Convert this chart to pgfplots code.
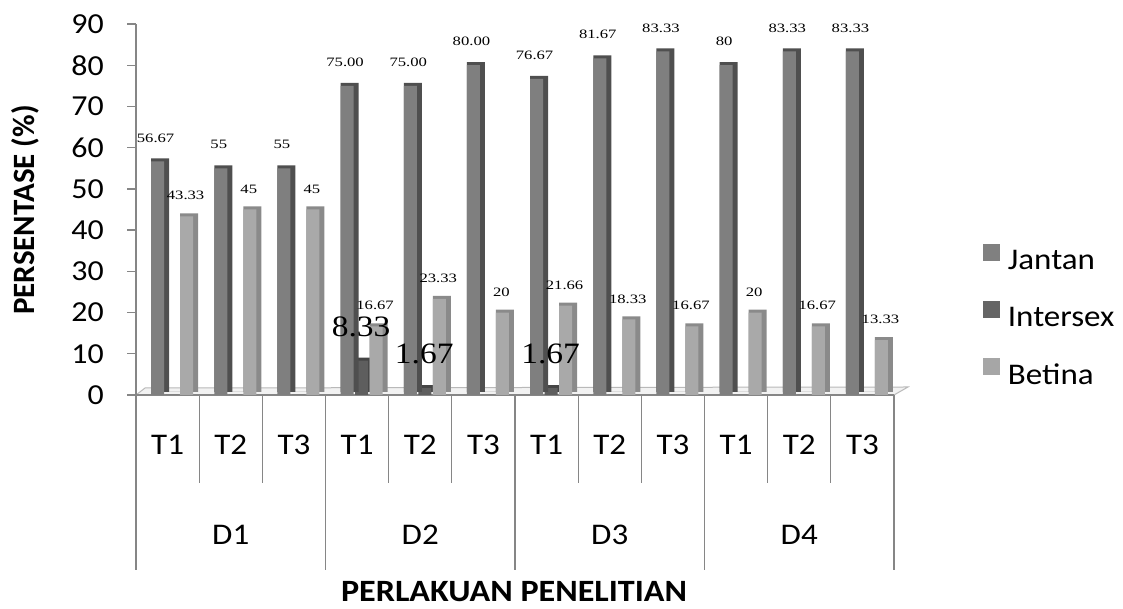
\documentclass[border=0pt]{standalone}
\usepackage{fontspec}
\setmainfont{Carlito}[FakeStretch=1.1]
\newfontfamily\ylabfont{Carlito}
\newfontfamily\smallfont{Liberation Serif}[FakeStretch=1.3]
\newfontfamily\bigfont{Liberation Serif}[FakeStretch=1.13]
\usepackage{pgfplots}
\usepackage{pgfplotstable}
\pgfplotsset{compat=1.18}

\definecolor{axgray}{HTML}{868686}
\definecolor{jF}{HTML}{7F7F7F}
\definecolor{jS}{HTML}{4F4F4F}
\definecolor{iF}{HTML}{5E5E5E}
\definecolor{iS}{HTML}{454545}
\definecolor{bF}{HTML}{A9A9A9}
\definecolor{bS}{HTML}{8A8A8A}
\definecolor{jL}{HTML}{808080}
\definecolor{iL}{HTML}{656565}
\definecolor{bL}{HTML}{A6A6A6}
\definecolor{floorc}{HTML}{F2F2F2}

\pgfplotstableread{
x J I B Jl Bl
0 56.67 0 43.33 56.67 43.33
1 55 0 45 55 45
2 55 0 45 55 45
3 75.00 8.33 16.67 75.00 16.67
4 75.00 1.67 23.33 75.00 23.33
5 80.00 0 20 80.00 20
6 76.67 1.67 21.66 76.67 21.66
7 81.67 0 18.33 81.67 18.33
8 83.33 0 16.67 83.33 16.67
9 80 0 20 80 20
10 83.33 0 16.67 83.33 16.67
11 83.33 0 13.33 83.33 13.33
}\data

\begin{document}
\begin{tikzpicture}
\begin{axis}[
  set layers,
  at={(136pt,214pt)}, anchor=south west,
  scale only axis, width=758pt, height=371pt,
  xmin=-0.5, xmax=11.5, ymin=0, ymax=90,
  clip=false,
  axis x line*=bottom, axis y line*=left,
  axis line style={-, draw=axgray, line width=1.3pt},
  ytick={0,10,...,90},
  xtick={0,...,11},
  xticklabels={T1,T2,T3,T1,T2,T3,T1,T2,T3,T1,T2,T3},
  extra x ticks={1,4,7,10},
  extra x tick labels={D1,D2,D3,D4},
  extra x tick style={xtick style={draw=none}, xticklabel style={yshift=-90pt}},
  tick align=outside, major tick length=9pt,
  ytick style={draw=axgray, line width=1.3pt},
  xtick style={draw=none},
  /pgf/number format/assume math mode=true,
  yticklabel style={font=\fontsize{29}{29}\selectfont, inner sep=0pt, xshift=-23pt},
  xticklabel style={font=\fontsize{30}{30}\selectfont, anchor=center, yshift=-41pt},
  xlabel={PERLAKUAN PENELITIAN},
  xlabel style={at={(axis description cs:0.4987,-0.530)}, anchor=center, font=\bfseries\fontsize{31}{31}\selectfont, inner sep=0pt},
  ylabel={PERSENTASE (\%)},
  ylabel style={at={(axis description cs:-0.1464,0.4987)}, anchor=center, font=\ylabfont\bfseries\fontsize{31}{31}\selectfont, inner sep=0pt},
  legend style={at={(axis description cs:1.117,0.213)}, anchor=west, draw=none, fill=none, inner sep=0pt, row sep=28pt, font=\fontsize{30}{30}\selectfont, nodes={inner sep=2pt},
    /tikz/every odd column/.append style={column sep=6pt}},
  legend cell align=left,
  legend image code/.code={\fill[#1] (0pt,0pt) rectangle (17pt,17pt);},
]
\addlegendimage{fill=jL, draw=none}
\addlegendimage{fill=iL, draw=none}
\addlegendimage{fill=bL, draw=none}
\legend{Jantan,Intersex,Betina}

\begin{pgfonlayer}{axis background}
\fill[floorc] (axis cs:-0.5,0) -- (axis cs:11.5,0) -- ([shift={(14pt,8pt)}]axis cs:11.5,0) -- ([shift={(9pt,7pt)}]axis cs:-0.5,0) -- cycle;
\draw[gray!55, line width=1pt] (axis cs:-0.5,0) -- ([shift={(9pt,7pt)}]axis cs:-0.5,0) -- ([shift={(14pt,8pt)}]axis cs:11.5,0) -- (axis cs:11.5,0);
\end{pgfonlayer}

% Intersex
\addplot[forget plot, ybar, bar width=18pt, bar shift=7pt, fill=iS, draw=none, yshift=3pt] table[x=x,y=I]{\data};
\addplot[forget plot, ybar, bar width=13pt, bar shift=4.5pt, fill=iF, draw=none,
  point meta=y,
  nodes near coords={\pgfmathfloatifflags{\pgfplotspointmeta}{0}{}{\pgfmathprintnumber[fixed,fixed zerofill,precision=2]{\pgfplotspointmeta}}},
  every node near coord/.append style={font=\bigfont\fontsize{29.6}{30}\selectfont, inner sep=0pt, anchor=south, yshift=24pt, xshift=4pt, text=black}
  ] table[x=x,y=I]{\data};
% Jantan
\addplot[forget plot, ybar, bar width=18pt, bar shift=-7.5pt, fill=jS, draw=none, yshift=3pt] table[x=x,y=J]{\data};
\addplot[forget plot, ybar, bar width=13pt, bar shift=-10pt, fill=jF, draw=none,
  point meta=explicit symbolic,
  nodes near coords={\pgfplotspointmeta},
  every node near coord/.append style={font=\smallfont\fontsize{12.8}{12}\selectfont, inner sep=0pt, anchor=south, yshift=19pt, xshift=-12pt, text=black}
  ] table[x=x,y=J,meta=Jl]{\data};
% Betina
\addplot[forget plot, ybar, bar width=18pt, bar shift=21.5pt, fill=bS, draw=none, yshift=3pt] table[x=x,y=B]{\data};
\addplot[forget plot, ybar, bar width=13pt, bar shift=19pt, fill=bF, draw=none,
  point meta=explicit symbolic,
  nodes near coords={\pgfplotspointmeta},
  every node near coord/.append style={font=\smallfont\fontsize{12.8}{12}\selectfont, inner sep=0pt, anchor=south, yshift=16pt, xshift=18pt, text=black}
  ] table[x=x,y=B,meta=Bl]{\data};

\pgfplotsinvokeforeach{-0.5,2.5,5.5,8.5,11.5}{
  \draw[axgray, line width=1.3pt] (axis cs:#1,0) -- ([yshift=-175pt]axis cs:#1,0);
}
\pgfplotsinvokeforeach{0.5,1.5,3.5,4.5,6.5,7.5,9.5,10.5}{
  \draw[axgray, line width=1.3pt] (axis cs:#1,0) -- ([yshift=-88pt]axis cs:#1,0);
}
\end{axis}
\pgfresetboundingbox
\useasboundingbox (0,0) rectangle (1123pt,609pt);
\end{tikzpicture}
\end{document}
